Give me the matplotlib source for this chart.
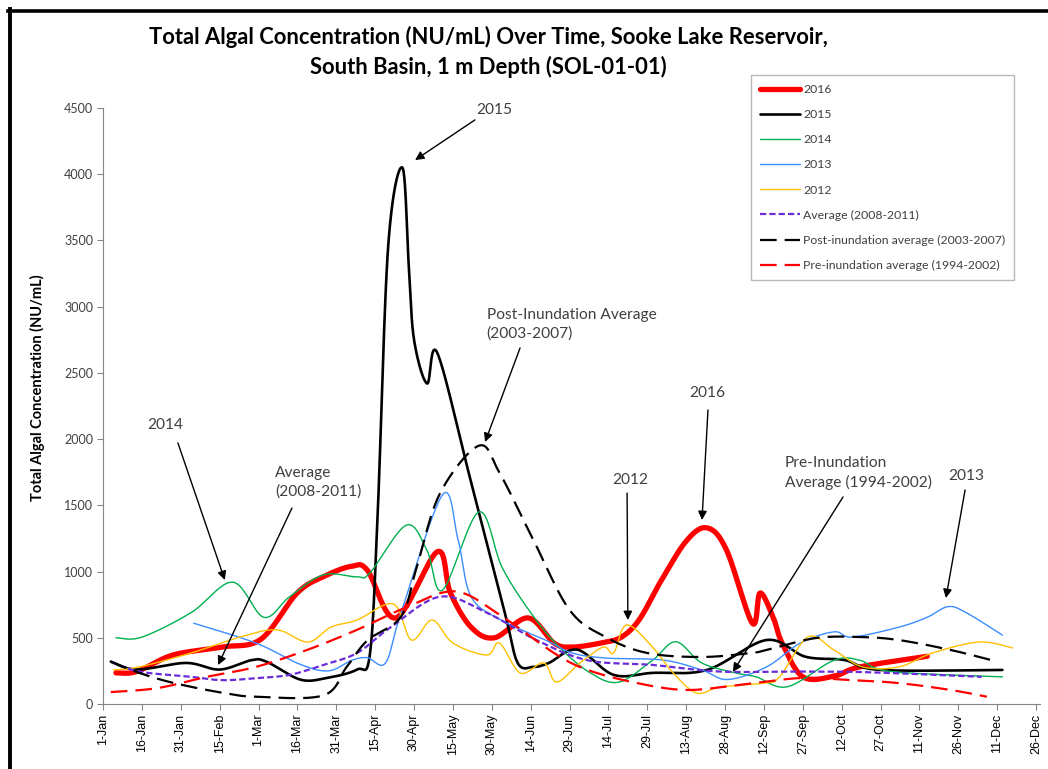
import numpy as np
import matplotlib.pyplot as plt
from matplotlib.lines import Line2D

plt.rcParams['font.family'] = ['Lato', 'DejaVu Sans']

# x axis: day of year, ticks every 15 days
tick_days = list(range(1, 362, 15))
tick_labels = ['1-Jan', '16-Jan', '31-Jan', '15-Feb', '1-Mar', '16-Mar', '31-Mar', '15-Apr',
               '30-Apr', '15-May', '30-May', '14-Jun', '29-Jun', '14-Jul', '29-Jul', '13-Aug',
               '28-Aug', '12-Sep', '27-Sep', '12-Oct', '27-Oct', '11-Nov', '26-Nov', '11-Dec', '26-Dec']

d2016 = [6, 14, 28, 47, 62, 76, 87, 97, 103, 114, 130, 135, 143, 152, 165, 175, 182, 193, 201,
         208, 216, 226, 234, 241.5, 251.5, 254.5, 259.5, 263, 271, 283, 293, 319]
v2016 = [235, 245, 370, 430, 490, 840, 970, 1040, 1010, 650, 1150, 840, 580, 500, 650, 460, 430, 460, 505,
         640, 920, 1230, 1330, 1165, 610, 838, 657, 460, 205, 210, 280, 360]

d2015 = [4, 14, 33, 46, 58, 64, 77, 87, 99, 104, 107, 111, 116.5, 119, 121, 126, 130, 143, 156, 161,
         167, 173, 184, 198, 213, 234, 257, 272, 287, 301, 348]
v2015 = [320, 260, 310, 260, 330, 320, 185, 195, 260, 380, 1450, 3450, 4050, 3300, 2750, 2420, 2650, 1675,
         690, 310, 280, 310, 410, 220, 235, 257, 483, 357, 332, 257, 257]

d2014 = [6, 16, 35, 51, 63, 73, 86, 99, 104, 118, 126, 132, 146, 155, 166, 177, 189, 200, 213,
         222, 232, 245, 253, 265, 283, 293, 305, 348]
v2014 = [500, 505, 690, 920, 655, 810, 975, 960, 990, 1350, 1160, 860, 1450, 1030, 690, 430, 235, 165, 330,
         470, 310, 235, 205, 130, 330, 330, 245, 205]

d2013 = [36, 60, 77, 88, 97, 103, 110, 116, 132, 138, 143, 155, 172, 182, 195, 217, 232, 242,
         257, 270, 283, 290, 308, 319, 327, 334, 348]
v2013 = [610, 460, 300, 250, 330, 350, 310, 690, 1580, 1240, 810, 630, 480, 385, 347, 332, 257, 185,
         280, 460, 545, 505, 580, 655, 735, 690, 520]

d2012 = [5, 15, 35, 54, 68, 80, 89, 99, 113, 120, 128, 136, 149, 154, 162, 171, 176, 185, 194, 198,
         203, 213, 221, 230, 239, 256, 262, 273, 283, 294, 308, 321, 339, 352]
v2012 = [257, 280, 385, 506, 560, 468, 581, 634, 755, 483, 634, 460, 370, 460, 234, 310, 166, 310, 430, 385,
         597, 430, 234, 83, 128, 158, 204, 506, 408, 280, 280, 385, 468, 423]

d_avg = [4, 15, 35, 47, 60, 73, 86, 99, 112, 131, 149, 168, 188, 213, 239, 270, 296, 340]
v_avg = [320, 245, 205, 180, 195, 220, 295, 385, 580, 810, 690, 485, 330, 295, 245, 245, 240, 205]

d_post = [4, 15, 28, 47, 60, 86, 95, 103, 116, 122, 131, 146, 154, 167, 181, 195, 211, 232, 251,
          257, 276, 293, 308, 328, 346]
v_post = [320, 235, 160, 85, 55, 65, 280, 480, 660, 1030, 1590, 1950, 1745, 1240, 710, 505, 385, 355, 385,
          408, 498, 506, 483, 408, 320]

d_pre = [4, 22, 41, 60, 80, 99, 118, 137, 155, 175, 188, 207, 226, 246, 270, 289, 308, 328, 342]
v_pre = [90, 120, 205, 280, 410, 560, 730, 850, 660, 385, 257, 158, 106, 143, 196, 181, 158, 106, 55]

XS, YS = 2.592, 596 / 4500  # pixels per day / per unit, used for Excel-like smoothing


def smooth(x, y, n=24):
    P = np.column_stack([np.asarray(x, float) * XS, np.asarray(y, float) * YS])
    E = np.vstack([P[0], P, P[-1]])
    t = np.linspace(0, 1, n)[:, None]
    out = []
    for i in range(len(P) - 1):
        p0, p1, p2, p3 = E[i], E[i + 1], E[i + 2], E[i + 3]
        c1 = p1 + (p2 - p0) / 6
        c2 = p2 - (p3 - p1) / 6
        b = (1 - t) ** 3 * p1 + 3 * (1 - t) ** 2 * t * c1 + 3 * (1 - t) * t ** 2 * c2 + t ** 3 * p2
        out.append(b if i == 0 else b[1:])
    out = np.vstack(out)
    return out[:, 0] / XS, out[:, 1] / YS


fig = plt.figure(figsize=(10.48, 7.69), dpi=100)
ax = fig.add_axes([103 / 1048, 65 / 769, 937 / 1048, 596 / 769])

series = [
    (d2016, v2016, dict(color='#FF0000', lw=3.8, label='2016')),
    (d2015, v2015, dict(color='black', lw=1.9, label='2015')),
    (d2014, v2014, dict(color='#00B050', lw=1.0, label='2014')),
    (d2013, v2013, dict(color='#3C8DFF', lw=1.0, label='2013')),
    (d2012, v2012, dict(color='#FFC000', lw=1.0, label='2012')),
    (d_avg, v_avg, dict(color='#6A2BD8', lw=1.6, ls=(0, (2.8, 1.4)), label='Average (2008-2011)')),
    (d_post, v_post, dict(color='black', lw=1.6, ls=(0, (7.5, 3.6)), label='Post-inundation average (2003-2007)')),
    (d_pre, v_pre, dict(color='#FF0000', lw=1.6, ls=(0, (7.5, 3.6)), label='Pre-inundation average (1994-2002)')),
]
for d, v, style in series:
    sx, sy = smooth(d, v)
    ax.plot(sx, sy, solid_capstyle='round', solid_joinstyle='round', **style)

ax.set_xlim(1, 362.5)
ax.set_ylim(0, 4500)
ax.set_xticks(tick_days)
ax.set_xticklabels(tick_labels, rotation=90, fontsize=9, family=['Liberation Sans'])
ax.set_yticks(range(0, 4501, 500))
ax.tick_params(axis='y', labelsize=9, labelcolor='#404040')
ax.tick_params(direction='out', length=4, color='#868686', width=0.8, pad=3)
for s in ['top', 'right']:
    ax.spines[s].set_visible(False)
for s in ['left', 'bottom']:
    ax.spines[s].set_color('#868686')
    ax.spines[s].set_linewidth(0.8)

# annotations: text, text position, arrow tail, arrow head (data coords)
notes = [
    ('2015', (152, 4485), (144.5, 4410), (121.4, 4107)),
    ('Post-Inundation Average\n(2003-2007)', (149, 2869), (161.9, 2688), (148.4, 1978)),
    ('2014', (25, 2107), (29.9, 1971), (48, 936)),
    ('Average\n(2008-2011)', (67.4, 1676), (73.9, 1480), (45.4, 294)),
    ('2016', (234, 2348), (234.4, 2220), (232.1, 1389)),
    ('2012', (204.3, 1691), (203.2, 1593), (203.5, 634)),
    ('Pre-Inundation\nAverage (1994-2002)', (264.1, 1744), (286.5, 1563), (244, 242)),
    ('2013', (334, 1722), (333.6, 1616), (326.2, 800)),
]
for txt, tp, tail, head in notes:
    ha = 'left' if '\n' in txt else 'center'
    ax.text(tp[0], tp[1], txt, ha=ha, va='center', fontsize=11.2, color='#404040', linespacing=1.4)
    ax.annotate('', xy=head, xytext=tail,
                arrowprops=dict(arrowstyle='-|>', color='black', lw=1.0, mutation_scale=13,
                                shrinkA=0, shrinkB=0))

leg = ax.legend(loc='upper left', bbox_to_anchor=(751 / 1048, 1 - 75 / 769),
                bbox_transform=fig.transFigure, fontsize=8.8, frameon=True, fancybox=False,
                labelspacing=1.16, handlelength=3.3, handletextpad=0.25, borderpad=0.72,
                borderaxespad=0)
leg.get_frame().set_edgecolor('#A6A6A6')
leg.get_frame().set_linewidth(1.0)
for t in leg.get_texts():
    t.set_color('#404040')

fig.text(488 / 1048, 1 - 52 / 769,
         'Total Algal Concentration (NU/mL) Over Time, Sooke Lake Reservoir,\nSouth Basin, 1 m Depth (SOL-01-01)',
         ha='center', va='center', fontsize=15.8, fontweight='bold', linespacing=1.4)
fig.text(37 / 1048, 1 - 388 / 769, 'Total Algal Concentration (NU/mL)', rotation=90,
         ha='center', va='center', fontsize=10.5, fontweight='bold')

# chart-area border (left and top edges visible)
fig.add_artist(Line2D([10 / 1048, 10 / 1048], [0, 1 - 9 / 769], transform=fig.transFigure,
                      color='black', lw=2.8))
fig.add_artist(Line2D([8 / 1048, 1], [1 - 11 / 769, 1 - 11 / 769], transform=fig.transFigure,
                      color='black', lw=2.6))

fig.savefig('out.png', dpi=100)
